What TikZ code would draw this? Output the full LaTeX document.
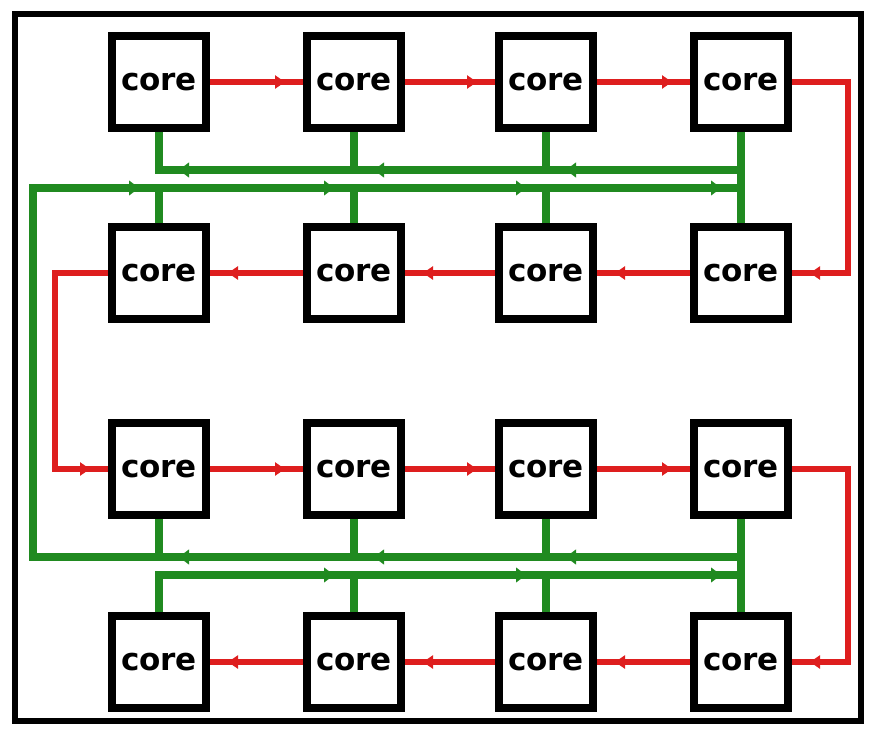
\documentclass[tikz,border=0pt]{standalone}
\usepackage{fontspec}
\newfontfamily\corefont{DejaVu Sans}[BoldFont={DejaVu Sans Bold}]
\usetikzlibrary{arrows.meta,decorations.markings,backgrounds}
\definecolor{rc}{RGB}{222,30,30}
\definecolor{gc}{RGB}{32,138,32}
\tikzset{
  corebox/.style={draw=black, fill=white, line width=8pt, minimum width=94pt, minimum height=92pt, inner sep=0pt, font=\corefont\bfseries\fontsize{31}{31}\selectfont},
  redwire/.style={draw=rc, line width=6pt},
  greenwire/.style={draw=gc, line width=8pt},
  rtip/.style={postaction={decorate}, decoration={markings, mark=at position -18pt with {\arrow[rc]{Triangle[length=10pt,width=13pt]}}}},
  gtip/.style={postaction={decorate}, decoration={markings, mark=at position -20pt with {\arrow[gc]{Triangle[length=10pt,width=15pt]}}}}
}
\begin{document}
\begin{tikzpicture}[x=1pt,y=-1pt]
\useasboundingbox (0,0) rectangle (872,729);
\draw[line width=6.5pt] (15,14) rectangle (861,721);
% cores
\foreach \r/\yy in {1/82,2/273,3/469,4/662}{
  \foreach \c/\xx in {1/159,2/354,3/546,4/741}{
    \node[corebox] (c\r\c) at (\xx,\yy) {core};
  }
}
% bus coordinates
\foreach \c/\xx in {1/159,2/354,3/546,4/741}{
  \coordinate (A\c) at (\xx,170);
  \coordinate (B\c) at (\xx,188);
  \coordinate (C\c) at (\xx,557);
  \coordinate (D\c) at (\xx,575);
}
\coordinate (B0) at (33,188);
\coordinate (C0) at (33,557);
\coordinate (RR1) at (848,82);
\coordinate (RR2) at (848,273);
\coordinate (RL1) at (55,273);
\coordinate (RL2) at (55,469);
\coordinate (RR3) at (848,469);
\coordinate (RR4) at (848,662);
\begin{pgfonlayer}{background}
% green bus lines
\draw[greenwire] (c11.south) -- (A1) -- (A4);
\draw[greenwire] (c12.south) -- (A2);
\draw[greenwire] (c13.south) -- (A3);
\draw[greenwire] (c14.south) -- (c24.north);
\draw[greenwire] (B4) -- (B0) -- (C0) -- (C4);
\draw[greenwire] (B1) -- (c21.north);
\draw[greenwire] (B2) -- (c22.north);
\draw[greenwire] (B3) -- (c23.north);
\draw[greenwire] (c31.south) -- (C1);
\draw[greenwire] (c32.south) -- (C2);
\draw[greenwire] (c33.south) -- (C3);
\draw[greenwire] (c34.south) -- (c44.north);
\draw[greenwire] (c41.north) -- (D1) -- (D4);
\draw[greenwire] (D2) -- (c42.north);
\draw[greenwire] (D3) -- (c43.north);
% green arrowheads
\path[gtip] (A4) -- (A3);
\path[gtip] (A3) -- (A2);
\path[gtip] (A2) -- (A1);
\path[gtip] (B0) -- (B1);
\path[gtip] (B1) -- (B2);
\path[gtip] (B2) -- (B3);
\path[gtip] (B3) -- (B4);
\path[gtip] (C4) -- (C3);
\path[gtip] (C3) -- (C2);
\path[gtip] (C2) -- (C1);
\path[gtip] (D1) -- (D2);
\path[gtip] (D2) -- (D3);
\path[gtip] (D3) -- (D4);
% red chain
\draw[redwire,rtip] (c11.east) -- (c12.west);
\draw[redwire,rtip] (c12.east) -- (c13.west);
\draw[redwire,rtip] (c13.east) -- (c14.west);
\draw[redwire,rtip] (c14.east) -- (RR1) -- (RR2) -- (c24.east);
\draw[redwire,rtip] (c24.west) -- (c23.east);
\draw[redwire,rtip] (c23.west) -- (c22.east);
\draw[redwire,rtip] (c22.west) -- (c21.east);
\draw[redwire,rtip] (c21.west) -- (RL1) -- (RL2) -- (c31.west);
\draw[redwire,rtip] (c31.east) -- (c32.west);
\draw[redwire,rtip] (c32.east) -- (c33.west);
\draw[redwire,rtip] (c33.east) -- (c34.west);
\draw[redwire,rtip] (c34.east) -- (RR3) -- (RR4) -- (c44.east);
\draw[redwire,rtip] (c44.west) -- (c43.east);
\draw[redwire,rtip] (c43.west) -- (c42.east);
\draw[redwire,rtip] (c42.west) -- (c41.east);
\end{pgfonlayer}
\end{tikzpicture}
\end{document}
